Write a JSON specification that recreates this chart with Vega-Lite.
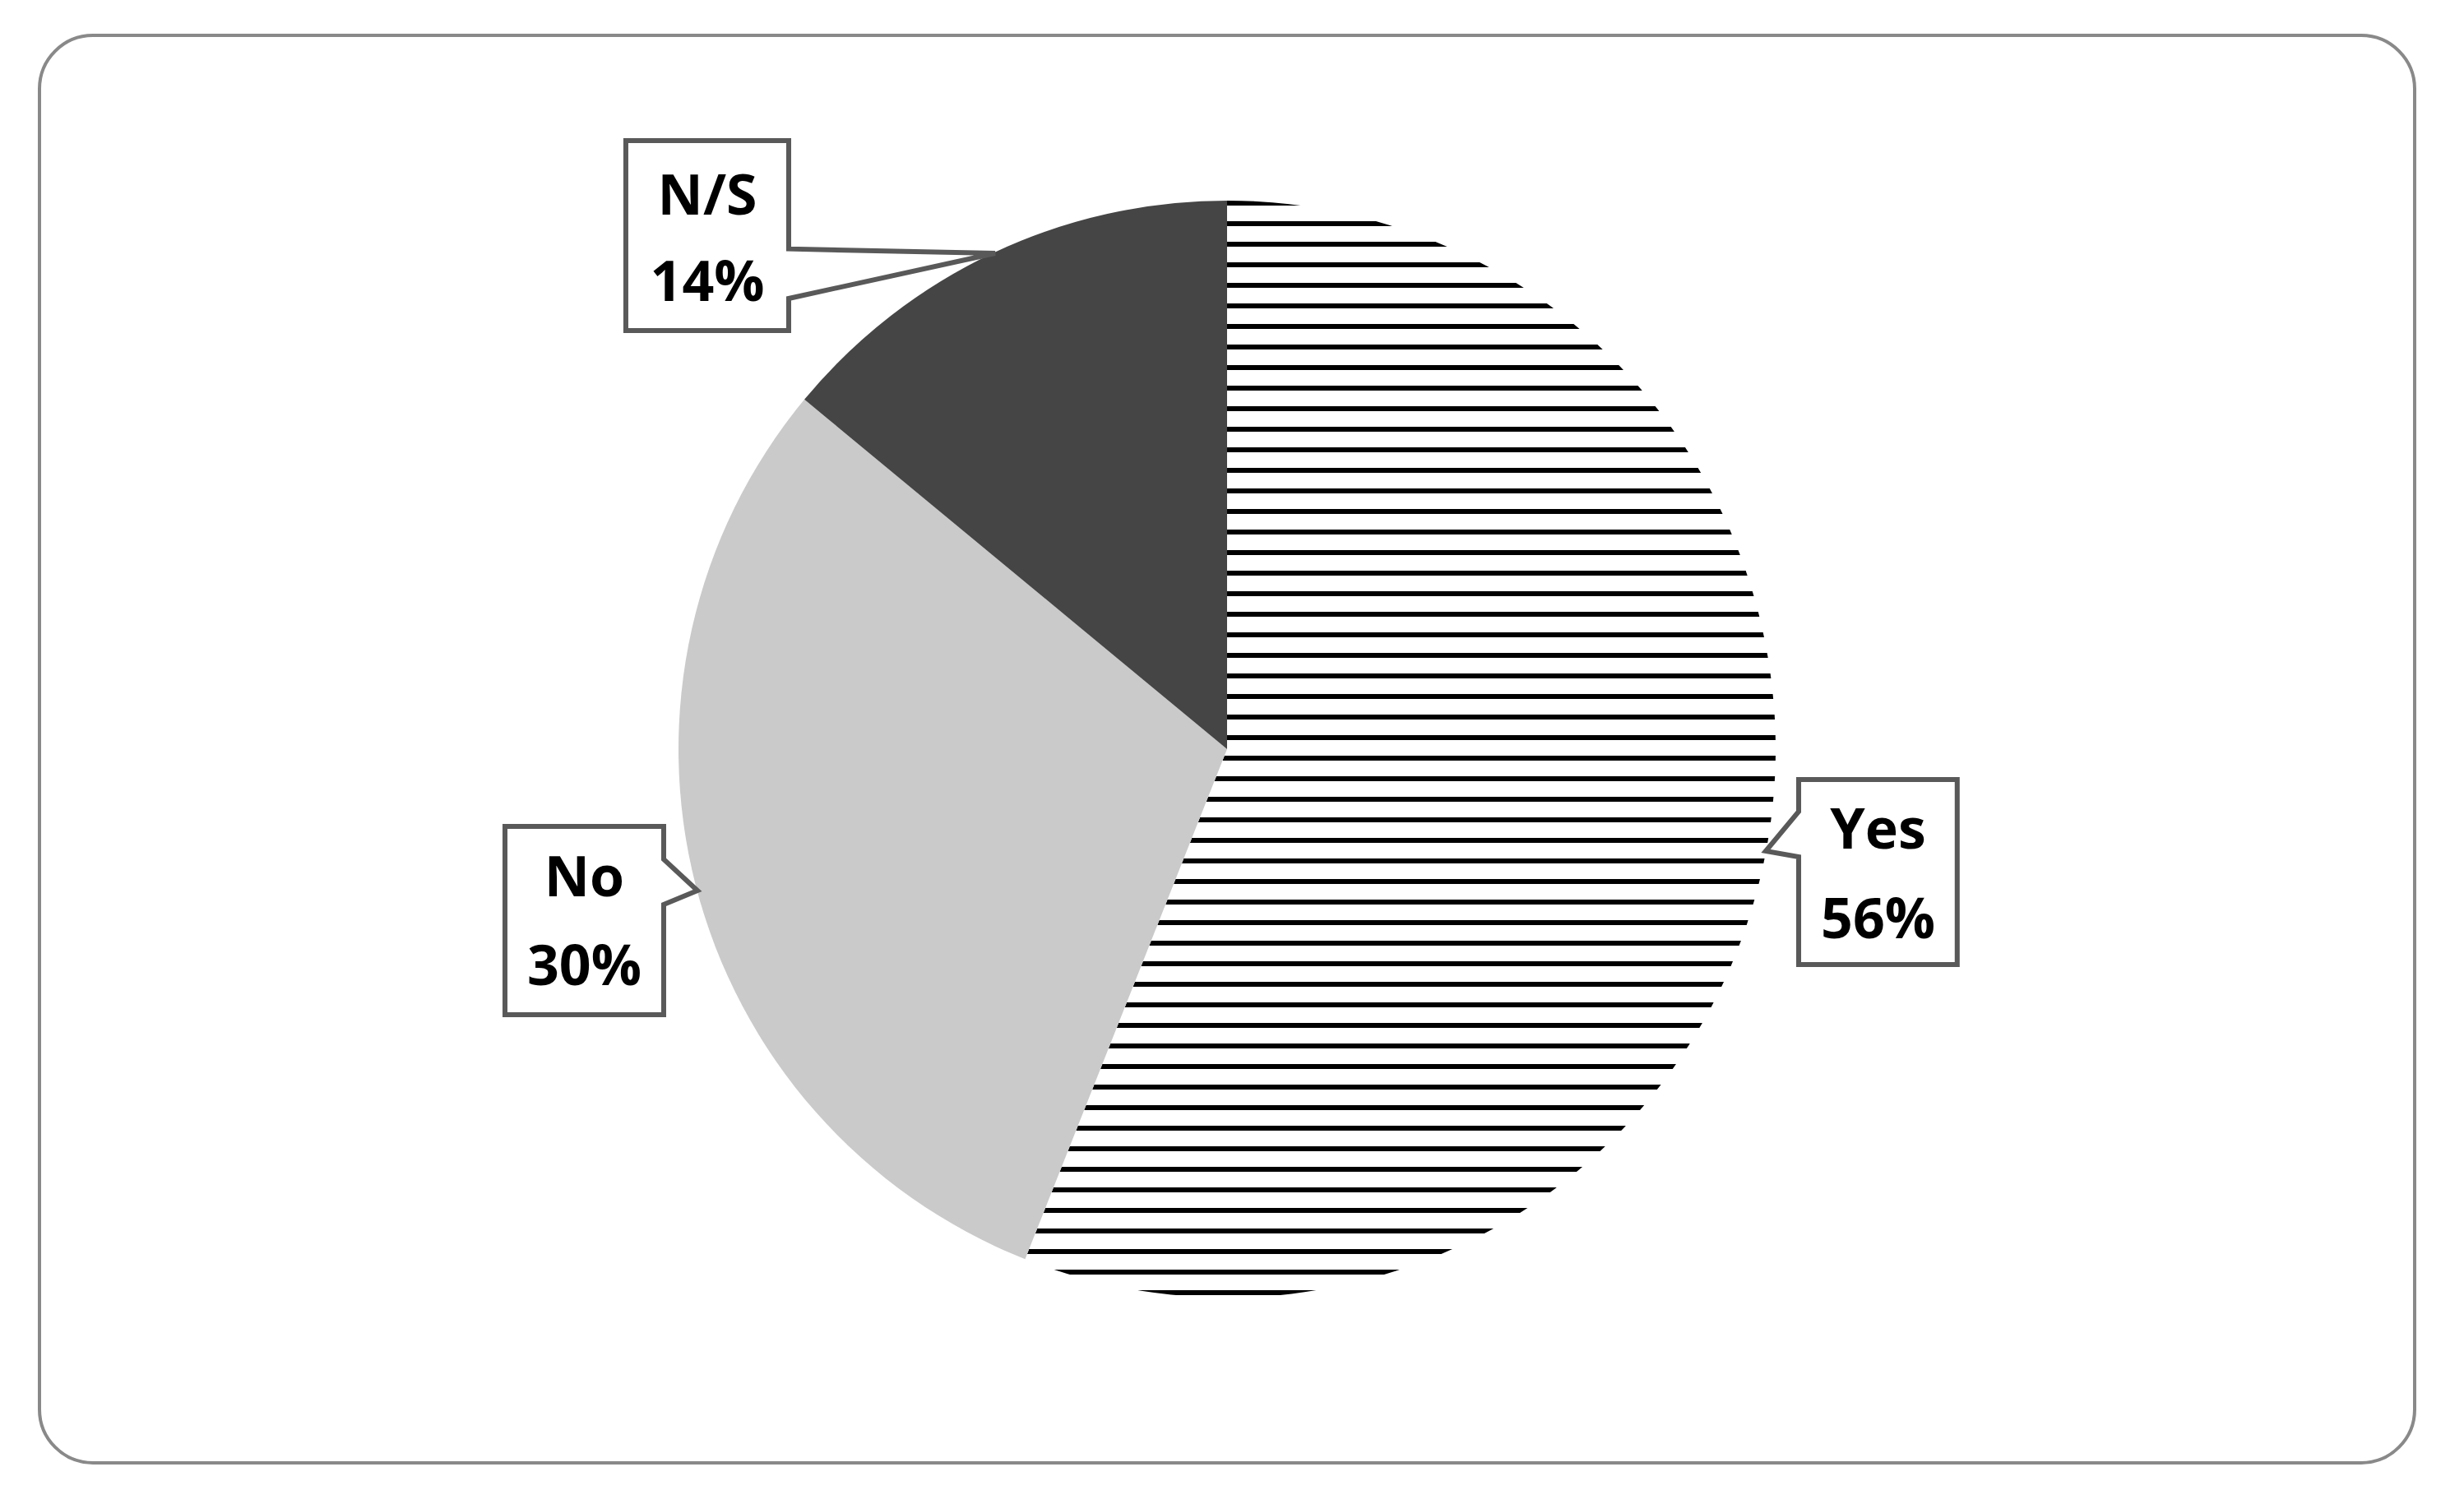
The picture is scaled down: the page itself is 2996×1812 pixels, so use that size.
{
  "$schema": "https://vega.github.io/schema/vega-lite/v6.json",
  "width": 2888,
  "height": 1736,
  "autosize": {"type": "none"},
  "padding": {"left": 48, "top": 43, "right": 60, "bottom": 33},
  "background": "#ffffff",
  "config": {
    "view": {"stroke": "#898989", "strokeWidth": 4, "cornerRadius": 65, "fill": "#ffffff"}
  },
  "datasets": {
    "shares": [
      {"answer": "Yes", "share": 56},
      {"answer": "No", "share": 30},
      {"answer": "N/S", "share": 14}
    ],
    "callouts": [
      {"answer": "Yes", "i": 0, "x": 104.2, "y": -5.55},
      {"answer": "Yes", "i": 1, "x": 133.1, "y": -5.55},
      {"answer": "Yes", "i": 2, "x": 133.1, "y": -39.28},
      {"answer": "Yes", "i": 3, "x": 104.2, "y": -39.28},
      {"answer": "Yes", "i": 4, "x": 104.2, "y": -19.64},
      {"answer": "Yes", "i": 5, "x": 98.2, "y": -18.59},
      {"answer": "Yes", "i": 6, "x": 104.2, "y": -11.39},
      {"answer": "Yes", "i": 7, "x": 104.2, "y": -5.55},
      {"answer": "No", "i": 0, "x": -131.63, "y": -14.09},
      {"answer": "No", "i": 1, "x": -102.7, "y": -14.09},
      {"answer": "No", "i": 2, "x": -102.7, "y": -20.09},
      {"answer": "No", "i": 3, "x": -96.55, "y": -25.79},
      {"answer": "No", "i": 4, "x": -102.7, "y": -28.34},
      {"answer": "No", "i": 5, "x": -102.7, "y": -48.43},
      {"answer": "No", "i": 6, "x": -131.63, "y": -48.43},
      {"answer": "No", "i": 7, "x": -131.63, "y": -14.09},
      {"answer": "N/S", "i": 0, "x": -109.6, "y": 110.94},
      {"answer": "N/S", "i": 1, "x": -79.91, "y": 110.94},
      {"answer": "N/S", "i": 2, "x": -79.91, "y": 91.2},
      {"answer": "N/S", "i": 3, "x": -42.28, "y": 90.4},
      {"answer": "N/S", "i": 4, "x": -79.91, "y": 82.16},
      {"answer": "N/S", "i": 5, "x": -79.91, "y": 76.31},
      {"answer": "N/S", "i": 6, "x": -109.6, "y": 76.31},
      {"answer": "N/S", "i": 7, "x": -109.6, "y": 110.94}
    ],
    "labels": [
      {"answer": "Yes", "line": "Yes", "x": 118.67, "y": -18.14},
      {"answer": "Yes", "line": "56%", "x": 118.67, "y": -34.48},
      {"answer": "No", "line": "No", "x": -117.17, "y": -26.84},
      {"answer": "No", "line": "30%", "x": -117.17, "y": -43.03},
      {"answer": "N/S", "line": "N/S", "x": -94.75, "y": 97.45},
      {"answer": "N/S", "line": "14%", "x": -94.75, "y": 81.71}
    ]
  },
  "layer": [
    {
      "data": {"name": "shares"},
      "mark": {"type": "arc", "outerRadius": 667},
      "encoding": {
        "theta": {"field": "share", "type": "quantitative", "stack": true},
        "fill": {
          "condition": [
            {"test": "datum.answer === 'Yes'", "value": {"gradient": "linear", "x1": 0, "y1": 0, "x2": 0, "y2": 1, "stops": [
              {"offset": 0, "color": "#000"}, {"offset": 0.0045, "color": "#000"}, {"offset": 0.0045, "color": "#fff"}, {"offset": 0.0187, "color": "#fff"},
              {"offset": 0.0187, "color": "#000"}, {"offset": 0.0232, "color": "#000"}, {"offset": 0.0232, "color": "#fff"}, {"offset": 0.0375, "color": "#fff"},
              {"offset": 0.0375, "color": "#000"}, {"offset": 0.0420, "color": "#000"}, {"offset": 0.0420, "color": "#fff"}, {"offset": 0.0562, "color": "#fff"},
              {"offset": 0.0562, "color": "#000"}, {"offset": 0.0607, "color": "#000"}, {"offset": 0.0607, "color": "#fff"}, {"offset": 0.0750, "color": "#fff"},
              {"offset": 0.0750, "color": "#000"}, {"offset": 0.0795, "color": "#000"}, {"offset": 0.0795, "color": "#fff"}, {"offset": 0.0937, "color": "#fff"},
              {"offset": 0.0937, "color": "#000"}, {"offset": 0.0982, "color": "#000"}, {"offset": 0.0982, "color": "#fff"}, {"offset": 0.1124, "color": "#fff"},
              {"offset": 0.1124, "color": "#000"}, {"offset": 0.1169, "color": "#000"}, {"offset": 0.1169, "color": "#fff"}, {"offset": 0.1312, "color": "#fff"},
              {"offset": 0.1312, "color": "#000"}, {"offset": 0.1357, "color": "#000"}, {"offset": 0.1357, "color": "#fff"}, {"offset": 0.1499, "color": "#fff"},
              {"offset": 0.1499, "color": "#000"}, {"offset": 0.1544, "color": "#000"}, {"offset": 0.1544, "color": "#fff"}, {"offset": 0.1687, "color": "#fff"},
              {"offset": 0.1687, "color": "#000"}, {"offset": 0.1732, "color": "#000"}, {"offset": 0.1732, "color": "#fff"}, {"offset": 0.1874, "color": "#fff"},
              {"offset": 0.1874, "color": "#000"}, {"offset": 0.1919, "color": "#000"}, {"offset": 0.1919, "color": "#fff"}, {"offset": 0.2062, "color": "#fff"},
              {"offset": 0.2062, "color": "#000"}, {"offset": 0.2107, "color": "#000"}, {"offset": 0.2107, "color": "#fff"}, {"offset": 0.2249, "color": "#fff"},
              {"offset": 0.2249, "color": "#000"}, {"offset": 0.2294, "color": "#000"}, {"offset": 0.2294, "color": "#fff"}, {"offset": 0.2436, "color": "#fff"},
              {"offset": 0.2436, "color": "#000"}, {"offset": 0.2481, "color": "#000"}, {"offset": 0.2481, "color": "#fff"}, {"offset": 0.2624, "color": "#fff"},
              {"offset": 0.2624, "color": "#000"}, {"offset": 0.2669, "color": "#000"}, {"offset": 0.2669, "color": "#fff"}, {"offset": 0.2811, "color": "#fff"},
              {"offset": 0.2811, "color": "#000"}, {"offset": 0.2856, "color": "#000"}, {"offset": 0.2856, "color": "#fff"}, {"offset": 0.2999, "color": "#fff"},
              {"offset": 0.2999, "color": "#000"}, {"offset": 0.3044, "color": "#000"}, {"offset": 0.3044, "color": "#fff"}, {"offset": 0.3186, "color": "#fff"},
              {"offset": 0.3186, "color": "#000"}, {"offset": 0.3231, "color": "#000"}, {"offset": 0.3231, "color": "#fff"}, {"offset": 0.3373, "color": "#fff"},
              {"offset": 0.3373, "color": "#000"}, {"offset": 0.3418, "color": "#000"}, {"offset": 0.3418, "color": "#fff"}, {"offset": 0.3561, "color": "#fff"},
              {"offset": 0.3561, "color": "#000"}, {"offset": 0.3606, "color": "#000"}, {"offset": 0.3606, "color": "#fff"}, {"offset": 0.3748, "color": "#fff"},
              {"offset": 0.3748, "color": "#000"}, {"offset": 0.3793, "color": "#000"}, {"offset": 0.3793, "color": "#fff"}, {"offset": 0.3936, "color": "#fff"},
              {"offset": 0.3936, "color": "#000"}, {"offset": 0.3981, "color": "#000"}, {"offset": 0.3981, "color": "#fff"}, {"offset": 0.4123, "color": "#fff"},
              {"offset": 0.4123, "color": "#000"}, {"offset": 0.4168, "color": "#000"}, {"offset": 0.4168, "color": "#fff"}, {"offset": 0.4310, "color": "#fff"},
              {"offset": 0.4310, "color": "#000"}, {"offset": 0.4355, "color": "#000"}, {"offset": 0.4355, "color": "#fff"}, {"offset": 0.4498, "color": "#fff"},
              {"offset": 0.4498, "color": "#000"}, {"offset": 0.4543, "color": "#000"}, {"offset": 0.4543, "color": "#fff"}, {"offset": 0.4685, "color": "#fff"},
              {"offset": 0.4685, "color": "#000"}, {"offset": 0.4730, "color": "#000"}, {"offset": 0.4730, "color": "#fff"}, {"offset": 0.4873, "color": "#fff"},
              {"offset": 0.4873, "color": "#000"}, {"offset": 0.4918, "color": "#000"}, {"offset": 0.4918, "color": "#fff"}, {"offset": 0.5060, "color": "#fff"},
              {"offset": 0.5060, "color": "#000"}, {"offset": 0.5105, "color": "#000"}, {"offset": 0.5105, "color": "#fff"}, {"offset": 0.5247, "color": "#fff"},
              {"offset": 0.5247, "color": "#000"}, {"offset": 0.5292, "color": "#000"}, {"offset": 0.5292, "color": "#fff"}, {"offset": 0.5435, "color": "#fff"},
              {"offset": 0.5435, "color": "#000"}, {"offset": 0.5480, "color": "#000"}, {"offset": 0.5480, "color": "#fff"}, {"offset": 0.5622, "color": "#fff"},
              {"offset": 0.5622, "color": "#000"}, {"offset": 0.5667, "color": "#000"}, {"offset": 0.5667, "color": "#fff"}, {"offset": 0.5810, "color": "#fff"},
              {"offset": 0.5810, "color": "#000"}, {"offset": 0.5855, "color": "#000"}, {"offset": 0.5855, "color": "#fff"}, {"offset": 0.5997, "color": "#fff"},
              {"offset": 0.5997, "color": "#000"}, {"offset": 0.6042, "color": "#000"}, {"offset": 0.6042, "color": "#fff"}, {"offset": 0.6185, "color": "#fff"},
              {"offset": 0.6185, "color": "#000"}, {"offset": 0.6230, "color": "#000"}, {"offset": 0.6230, "color": "#fff"}, {"offset": 0.6372, "color": "#fff"},
              {"offset": 0.6372, "color": "#000"}, {"offset": 0.6417, "color": "#000"}, {"offset": 0.6417, "color": "#fff"}, {"offset": 0.6559, "color": "#fff"},
              {"offset": 0.6559, "color": "#000"}, {"offset": 0.6604, "color": "#000"}, {"offset": 0.6604, "color": "#fff"}, {"offset": 0.6747, "color": "#fff"},
              {"offset": 0.6747, "color": "#000"}, {"offset": 0.6792, "color": "#000"}, {"offset": 0.6792, "color": "#fff"}, {"offset": 0.6934, "color": "#fff"},
              {"offset": 0.6934, "color": "#000"}, {"offset": 0.6979, "color": "#000"}, {"offset": 0.6979, "color": "#fff"}, {"offset": 0.7122, "color": "#fff"},
              {"offset": 0.7122, "color": "#000"}, {"offset": 0.7167, "color": "#000"}, {"offset": 0.7167, "color": "#fff"}, {"offset": 0.7309, "color": "#fff"},
              {"offset": 0.7309, "color": "#000"}, {"offset": 0.7354, "color": "#000"}, {"offset": 0.7354, "color": "#fff"}, {"offset": 0.7496, "color": "#fff"},
              {"offset": 0.7496, "color": "#000"}, {"offset": 0.7541, "color": "#000"}, {"offset": 0.7541, "color": "#fff"}, {"offset": 0.7684, "color": "#fff"},
              {"offset": 0.7684, "color": "#000"}, {"offset": 0.7729, "color": "#000"}, {"offset": 0.7729, "color": "#fff"}, {"offset": 0.7871, "color": "#fff"},
              {"offset": 0.7871, "color": "#000"}, {"offset": 0.7916, "color": "#000"}, {"offset": 0.7916, "color": "#fff"}, {"offset": 0.8059, "color": "#fff"},
              {"offset": 0.8059, "color": "#000"}, {"offset": 0.8104, "color": "#000"}, {"offset": 0.8104, "color": "#fff"}, {"offset": 0.8246, "color": "#fff"},
              {"offset": 0.8246, "color": "#000"}, {"offset": 0.8291, "color": "#000"}, {"offset": 0.8291, "color": "#fff"}, {"offset": 0.8433, "color": "#fff"},
              {"offset": 0.8433, "color": "#000"}, {"offset": 0.8478, "color": "#000"}, {"offset": 0.8478, "color": "#fff"}, {"offset": 0.8621, "color": "#fff"},
              {"offset": 0.8621, "color": "#000"}, {"offset": 0.8666, "color": "#000"}, {"offset": 0.8666, "color": "#fff"}, {"offset": 0.8808, "color": "#fff"},
              {"offset": 0.8808, "color": "#000"}, {"offset": 0.8853, "color": "#000"}, {"offset": 0.8853, "color": "#fff"}, {"offset": 0.8996, "color": "#fff"},
              {"offset": 0.8996, "color": "#000"}, {"offset": 0.9041, "color": "#000"}, {"offset": 0.9041, "color": "#fff"}, {"offset": 0.9183, "color": "#fff"},
              {"offset": 0.9183, "color": "#000"}, {"offset": 0.9228, "color": "#000"}, {"offset": 0.9228, "color": "#fff"}, {"offset": 0.9371, "color": "#fff"},
              {"offset": 0.9371, "color": "#000"}, {"offset": 0.9416, "color": "#000"}, {"offset": 0.9416, "color": "#fff"}, {"offset": 0.9558, "color": "#fff"},
              {"offset": 0.9558, "color": "#000"}, {"offset": 0.9603, "color": "#000"}, {"offset": 0.9603, "color": "#fff"}, {"offset": 0.9745, "color": "#fff"},
              {"offset": 0.9745, "color": "#000"}, {"offset": 0.9790, "color": "#000"}, {"offset": 0.9790, "color": "#fff"}, {"offset": 0.9933, "color": "#fff"},
              {"offset": 0.9933, "color": "#000"}, {"offset": 0.9978, "color": "#000"}, {"offset": 0.9978, "color": "#fff"}, {"offset": 1, "color": "#fff"}
            ]}},
            {"test": "datum.answer === 'N/S'", "value": "#454545"}
          ],
          "value": "#cacaca"
        }
      }
    },
    {
      "data": {"name": "callouts"},
      "mark": {"type": "line", "fill": "#ffffff", "stroke": "#595959", "strokeWidth": 6, "strokeJoin": "miter", "strokeCap": "square"},
      "encoding": {
        "x": {"field": "x", "type": "quantitative", "scale": {"domain": [-216.49, 216.49], "nice": false, "zero": false}, "axis": null},
        "y": {"field": "y", "type": "quantitative", "scale": {"domain": [-130.13, 130.13], "nice": false, "zero": false}, "axis": null},
        "order": {"field": "i", "type": "quantitative"},
        "detail": {"field": "answer", "type": "nominal"}
      }
    },
    {
      "data": {"name": "labels"},
      "mark": {"type": "text", "font": "Open Sans", "fontWeight": "bold", "fontSize": 68, "align": "center", "baseline": "alphabetic", "fill": "#000000"},
      "encoding": {
        "x": {"field": "x", "type": "quantitative", "scale": {"domain": [-216.49, 216.49], "nice": false, "zero": false}, "axis": null},
        "y": {"field": "y", "type": "quantitative", "scale": {"domain": [-130.13, 130.13], "nice": false, "zero": false}, "axis": null},
        "text": {"field": "line", "type": "nominal"}
      }
    }
  ]
}
